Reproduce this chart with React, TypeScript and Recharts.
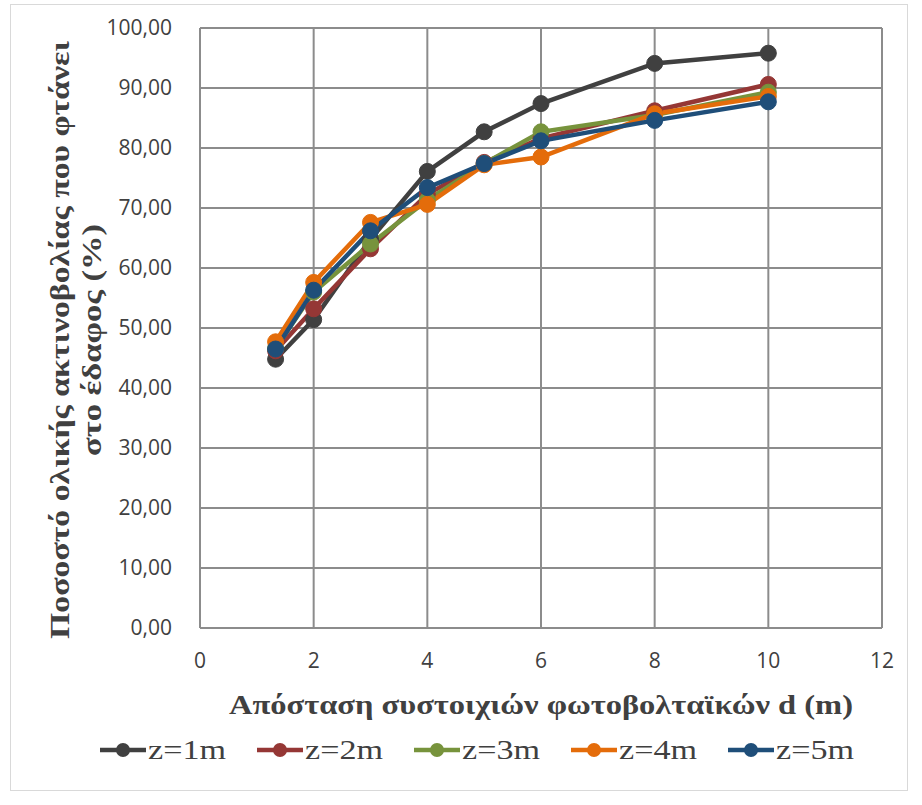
import { LineChart, Line, XAxis, YAxis, CartesianGrid, Label } from 'recharts'

// Distance between PV rows d (m)
const distances = [1.33, 2, 3, 4, 5, 6, 8, 10]

// Share of total irradiance reaching the ground (%), one list per height z
const z1 = [44.8, 51.4, 64.8, 76.1, 82.7, 87.4, 94.1, 95.8]
const z2 = [46.2, 53.2, 63.2, 72.3, 77.6, 81.6, 86.2, 90.6]
const z3 = [46.6, 56.0, 64.0, 71.3, 77.4, 82.7, 85.5, 89.3]
const z4 = [47.7, 57.6, 67.6, 70.6, 77.2, 78.5, 85.7, 88.6]
const z5 = [46.5, 56.3, 66.2, 73.4, 77.4, 81.2, 84.6, 87.7]

const xTicks = [0, 2, 4, 6, 8, 10, 12]
const yTicks = [0, 10, 20, 30, 40, 50, 60, 70, 80, 90, 100]

const series = [
  { key: 'z1', name: 'z=1m', color: '#404040', values: z1 },
  { key: 'z2', name: 'z=2m', color: '#953735', values: z2 },
  { key: 'z3', name: 'z=3m', color: '#77933C', values: z3 },
  { key: 'z4', name: 'z=4m', color: '#E46C0A', values: z4 },
  { key: 'z5', name: 'z=5m', color: '#1F4E79', values: z5 },
]

const data = distances.map((d, i) => {
  const row: Record<string, number> = { d }
  series.forEach((s) => {
    row[s.key] = s.values[i]
  })
  return row
})

const GRID = '#8c8c8c'
const TEXT = '#404040'
const SERIF = '"Liberation Serif", "DejaVu Serif", serif'
const SANS = '"Open Sans", "Noto Sans", sans-serif'

const formatPct = (v: number) => v.toFixed(2).replace('.', ',')

// Two-line rotated title for the value axis
function YTitle(props: any) {
  const { viewBox } = props
  const cy = viewBox.y + viewBox.height / 2 + 12
  return (
    <g fontFamily={SERIF} fontWeight="bold" fontSize={27} fill={TEXT} textAnchor="middle">
      <text
        transform={`translate(69, ${cy}) rotate(-90)`}
        textLength={598}
        lengthAdjust="spacingAndGlyphs"
      >
        Ποσοστό ολικής ακτινοβολίας που φτάνει
      </text>
      <text
        transform={`translate(101, ${cy}) rotate(-90)`}
        textLength={232}
        lengthAdjust="spacingAndGlyphs"
      >
        στο έδαφος (%)
      </text>
    </g>
  )
}

function XTitle(props: any) {
  const { viewBox } = props
  const cx = viewBox.x + viewBox.width / 2
  return (
    <text
      x={cx}
      y={viewBox.y + 86}
      textAnchor="middle"
      fontFamily={SERIF}
      fontWeight="bold"
      fontSize={27}
      fill={TEXT}
      textLength={624}
      lengthAdjust="spacingAndGlyphs"
    >
      Απόσταση συστοιχιών φωτοβολταϊκών d (m)
    </text>
  )
}

function LegendRow() {
  return (
    <svg width={800} height={40} style={{ position: 'absolute', left: 100, top: 731 }}>
      {series.map((s, i) => (
        <g key={s.key} transform={`translate(${i * 157}, 0)`}>
          <line x1={0} y1={19} x2={46} y2={19} stroke={s.color} strokeWidth={4.5} />
          <circle cx={23} cy={19} r={7} fill={s.color} />
          <text
            x={48}
            y={28}
            fontFamily={SERIF}
            fontSize={27}
            fill={TEXT}
            textLength={78}
            lengthAdjust="spacingAndGlyphs"
          >
            {s.name}
          </text>
        </g>
      ))}
    </svg>
  )
}

export default function App() {
  return (
    <div style={{ position: 'absolute', left: 0, top: 0, width: 922, height: 805, background: '#fff' }}>
      <div
        style={{
          position: 'absolute',
          left: 10,
          top: 4,
          width: 896,
          height: 785,
          border: '1px solid #d9d9d9',
        }}
      />
      <LineChart
        width={922}
        height={805}
        data={data}
        margin={{ top: 28, right: 40, left: 100, bottom: 137 }}
      >
        <CartesianGrid stroke={GRID} strokeWidth={2} />
        <XAxis
          dataKey="d"
          type="number"
          domain={[0, 12]}
          ticks={xTicks}
          height={40}
          stroke={GRID}
          strokeWidth={2}
          tickLine={false}
          tickSize={0}
          tickMargin={25}
          tick={{ fill: TEXT, fontSize: 21, fontFamily: SANS }}
        >
          <Label content={<XTitle />} />
        </XAxis>
        <YAxis
          type="number"
          domain={[0, 100]}
          ticks={yTicks}
          width={100}
          stroke={GRID}
          strokeWidth={2}
          tickLine={false}
          tickSize={0}
          tickMargin={28}
          tickFormatter={formatPct}
          tick={{ fill: TEXT, fontSize: 21, fontFamily: SANS }}
        >
          <Label content={<YTitle />} />
        </YAxis>
        {series.map((s) => (
          <Line
            key={s.key}
            dataKey={s.key}
            name={s.name}
            stroke={s.color}
            strokeWidth={4.5}
            dot={{ r: 8, fill: s.color, stroke: s.color, strokeWidth: 1 }}
            activeDot={false}
            isAnimationActive={false}
          />
        ))}
      </LineChart>
      <LegendRow />
    </div>
  )
}
